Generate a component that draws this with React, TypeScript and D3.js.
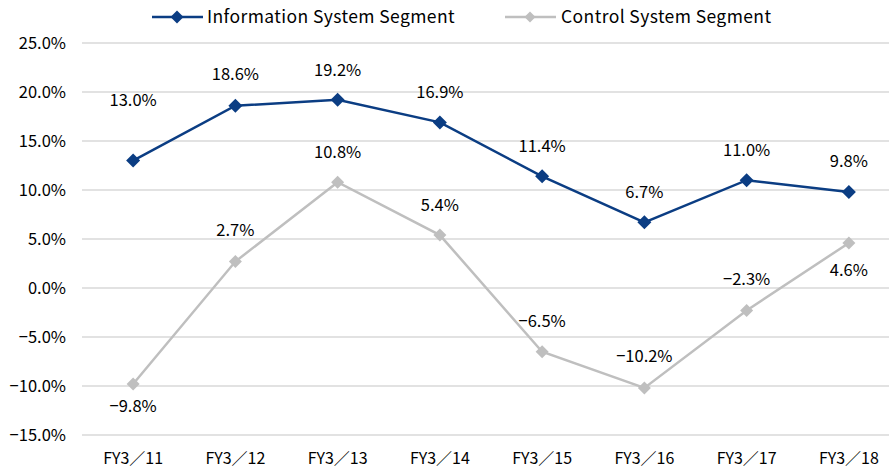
import React from "react";
import * as d3 from "d3";

const categories = ["FY3／11", "FY3／12", "FY3／13", "FY3／14", "FY3／15", "FY3／16", "FY3／17", "FY3／18"];
const infoValues = [13.0, 18.6, 19.2, 16.9, 11.4, 6.7, 11.0, 9.8];
const controlValues = [-9.8, 2.7, 10.8, 5.4, -6.5, -10.2, -2.3, 4.6];
const yTicks = [25, 20, 15, 10, 5, 0, -5, -10, -15];

// label placement (pixel offset from the marker)
const infoLabelDy = [-60, -31, -30, -30, -30, -30, -30, -31];
const controlLabelDy = [22, -31, -30, -30, -30, -32, -31, 27];

const W = 889;
const H = 472;
const font = "'Noto Sans CJK JP', 'Noto Sans', sans-serif";
const blue = "#0B3D83";
const gray = "#BFBFBF";

const fmt = (v: number) => (v < 0 ? "\u2212" : "") + Math.abs(v).toFixed(1) + "%";

const Diamond = ({ x, y, r, fill }: { x: number; y: number; r: number; fill: string }) => (
  <path d={`M${x},${y - r}L${x + r},${y}L${x},${y + r}L${x - r},${y}Z`} fill={fill} />
);

export default function App() {
  const x = d3.scaleBand<string>().domain(categories).range([82, 900]);
  const y = d3.scaleLinear().domain([-15, 25]).range([435, 43]);
  const cx = (c: string) => (x(c) ?? 0) + x.bandwidth() / 2;
  const line = d3
    .line<number>()
    .x((_, i) => cx(categories[i]))
    .y((d) => y(d));

  const series = [
    { values: infoValues, color: blue, dy: infoLabelDy, r: 7 },
    { values: controlValues, color: gray, dy: controlLabelDy, r: 6.5 },
  ];

  return (
    <svg
      width={W}
      height={H}
      style={{ position: "absolute", left: 0, top: 0, background: "#fff" }}
      fontFamily={font}
    >
      {yTicks.map((t) => (
        <g key={t}>
          <line x1={82} x2={W} y1={y(t)} y2={y(t)} stroke="#D9D9D9" strokeWidth={1.5} />
          <text x={66} y={y(t)} dy="0.35em" textAnchor="end" fontSize={16.5} fill="#000">
            {fmt(t)}
          </text>
        </g>
      ))}
      {categories.map((c) => (
        <text key={c} x={cx(c)} y={458} dy="0.35em" textAnchor="middle" fontSize={16} fill="#000">
          {c}
        </text>
      ))}
      {series.map((s, si) => (
        <g key={si}>
          <path d={line(s.values) ?? ""} fill="none" stroke={s.color} strokeWidth={2.5} />
          {s.values.map((v, i) => (
            <Diamond key={i} x={cx(categories[i])} y={y(v)} r={s.r} fill={s.color} />
          ))}
          {s.values.map((v, i) => (
            <text
              key={"l" + i}
              x={cx(categories[i])}
              y={y(v) + s.dy[i]}
              dy="0.35em"
              textAnchor="middle"
              fontSize={16.5}
              fill="#000"
            >
              {fmt(v)}
            </text>
          ))}
        </g>
      ))}
      <g>
        <line x1={152} x2={203} y1={17} y2={17} stroke={blue} strokeWidth={2.5} />
        <Diamond x={177} y={17} r={6.5} fill={blue} />
        <text x={207} y={17} dy="0.35em" fontSize={17.5} letterSpacing={0.4} fill="#000">
          Information System Segment
        </text>
        <line x1={505} x2={556} y1={17} y2={17} stroke={gray} strokeWidth={2.5} />
        <Diamond x={530} y={17} r={5.5} fill={gray} />
        <text x={561} y={17} dy="0.35em" fontSize={17.5} letterSpacing={0.4} fill="#000">
          Control System Segment
        </text>
      </g>
    </svg>
  );
}
